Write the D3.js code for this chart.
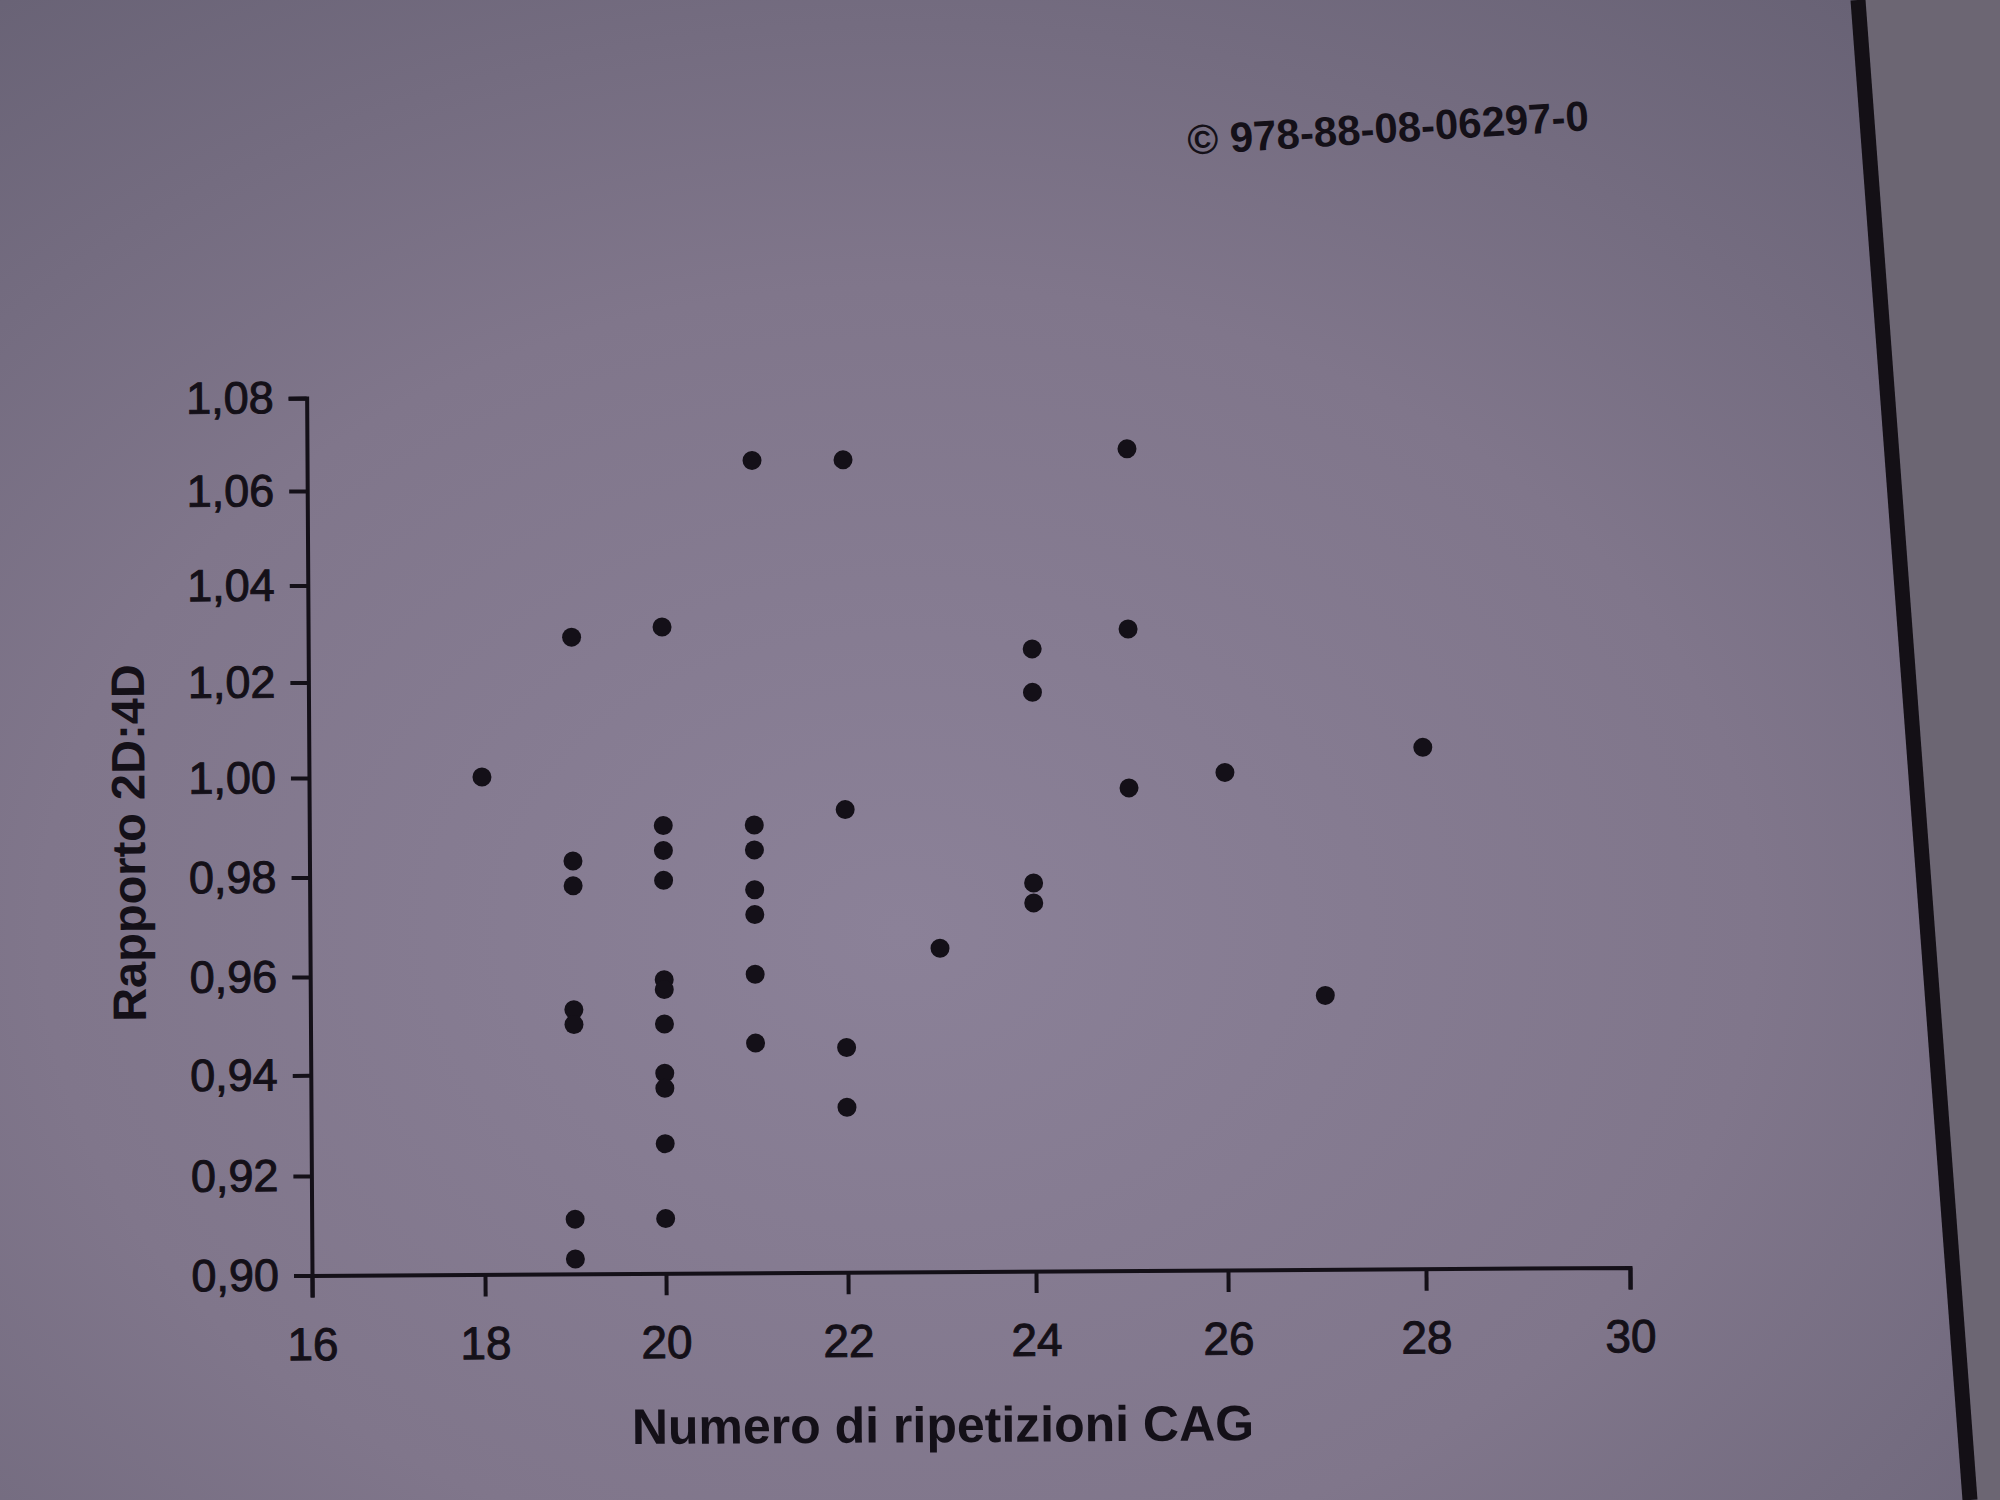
<!DOCTYPE html>
<html>
<head>
<meta charset="utf-8">
<script src="https://cdn.jsdelivr.net/npm/d3@7"></script>
<style>
  html, body { margin: 0; padding: 0; background: #7b7287; }
  svg { display: block; }
</style>
</head>
<body>
<svg id="chart" width="2000" height="1500"></svg>
<script>
// ---------- data ----------
const xTickValues = [16, 18, 20, 22, 24, 26, 28, 30];
const yTickValues = [0.90, 0.92, 0.94, 0.96, 0.98, 1.00, 1.02, 1.04, 1.06, 1.08];
const yTickLabels = ["0,90", "0,92", "0,94", "0,96", "0,98", "1,00", "1,02", "1,04", "1,06", "1,08"];

// numero di ripetizioni CAG (x) and rapporto 2D:4D (y), one entry per point
const cagRepeats = [
  18,
  19, 19, 19, 19, 19, 19, 19,
  20, 20, 20, 20, 20, 20, 20, 20, 20, 20, 20,
  21, 21, 21, 21, 21, 21, 21,
  22, 22, 22, 22,
  23,
  24, 24, 24, 24,
  25, 25, 25,
  26,
  27,
  28
];
const ratio2D4D = [
  1.000,
  1.029, 0.983, 0.978, 0.953, 0.950, 0.911, 0.903,
  1.031, 0.990, 0.985, 0.979, 0.959, 0.957, 0.950, 0.940, 0.937, 0.926, 0.911,
  1.066, 0.990, 0.985, 0.977, 0.972, 0.960, 0.946,
  1.066, 0.993, 0.945, 0.933,
  0.965,
  1.026, 1.017, 0.978, 0.974,
  1.068, 1.030, 0.997,
  1.000,
  0.955,
  1.005
];

const xTitle = "Numero di ripetizioni CAG";
const yTitle = "Rapporto 2D:4D";
const isbnText = "\u00A9 978-88-08-06297-0";

// ---------- layout (photographed page: slight perspective) ----------
const W = 2000, H = 1500;
const xRangeStops = [312, 485, 666, 848, 1036, 1228, 1426, 1630];
const yRangeStops = [1275.5, 1176, 1075.3, 977, 877.5, 778, 682.4, 585.5, 491, 398];
const ink = "#141018";

const svg = d3.select("#chart");

// page background with vignette
const defs = svg.append("defs");
const grad = defs.append("radialGradient")
  .attr("id", "paper").attr("cx", "45%").attr("cy", "62%").attr("r", "78%");
grad.append("stop").attr("offset", "0%").attr("stop-color", "#8b8198");
grad.append("stop").attr("offset", "55%").attr("stop-color", "#80768b");
grad.append("stop").attr("offset", "100%").attr("stop-color", "#686275");
svg.append("rect").attr("width", W).attr("height", H).attr("fill", "url(#paper)");

// region beyond the page edge and the edge line
svg.append("path")
  .attr("d", `M1862,0 L${W},0 L${W},${H} L1976,${H} Z`)
  .attr("fill", "#6c6673");
svg.append("line")
  .attr("x1", 1858).attr("y1", 0).attr("x2", 1970).attr("y2", H)
  .attr("stroke", "#141016").attr("stroke-width", 15);

// ISBN text
svg.append("text")
  .attr("transform", "translate(1388,128) rotate(-3.5)")
  .attr("text-anchor", "middle")
  .attr("dominant-baseline", "central")
  .attr("font-family", "'Liberation Sans', Arial, sans-serif")
  .attr("font-weight", "bold")
  .attr("font-size", 42)
  .attr("fill", ink)
  .text(isbnText);

// ---------- chart ----------
const x = d3.scaleLinear().domain(xTickValues).range(xRangeStops);
const y = d3.scaleLinear().domain(yTickValues).range(yRangeStops);

const g = svg.append("g")
  .attr("transform", `rotate(-0.35, ${xRangeStops[0]}, ${yRangeStops[0]})`)
  .attr("color", ink);

const xAxis = d3.axisBottom(x)
  .tickValues(xTickValues)
  .tickFormat(d3.format("d"))
  .tickSize(22)
  .tickPadding(30);

const yAxis = d3.axisLeft(y)
  .tickValues(yTickValues)
  .tickFormat((d, i) => yTickLabels[i])
  .tickSize(18)
  .tickPadding(15);

const gx = g.append("g")
  .attr("transform", `translate(0,${y(0.90)})`)
  .call(xAxis);
const gy = g.append("g")
  .attr("transform", `translate(${x(16)},0)`)
  .call(yAxis);

[gx, gy].forEach(ax => {
  ax.selectAll("path.domain, .tick line")
    .attr("stroke", ink).attr("stroke-width", 4);
  ax.selectAll(".tick text")
    .attr("font-family", "'Liberation Sans', Arial, sans-serif")
    .attr("fill", ink)
    .attr("stroke", ink).attr("stroke-width", 1);
});
gx.selectAll(".tick text").attr("font-size", 46);
gy.selectAll(".tick text").attr("font-size", 45);

// points
g.append("g")
  .selectAll("circle")
  .data(cagRepeats.map((c, i) => ({ c, r: ratio2D4D[i] })))
  .join("circle")
  .attr("cx", d => x(d.c))
  .attr("cy", d => y(d.r))
  .attr("r", 9.5)
  .attr("fill", ink);

// axis titles
g.append("text")
  .attr("x", 942).attr("y", 1429)
  .attr("text-anchor", "middle")
  .attr("dominant-baseline", "central")
  .attr("font-family", "'Liberation Sans', Arial, sans-serif")
  .attr("font-weight", "bold")
  .attr("font-size", 50)
  .attr("fill", ink)
  .text(xTitle);

g.append("text")
  .attr("transform", "translate(131,842) rotate(-90)")
  .attr("text-anchor", "middle")
  .attr("dominant-baseline", "central")
  .attr("font-family", "'Liberation Sans', Arial, sans-serif")
  .attr("font-weight", "bold")
  .attr("font-size", 47)
  .attr("fill", ink)
  .text(yTitle);
</script>
</body>
</html>
